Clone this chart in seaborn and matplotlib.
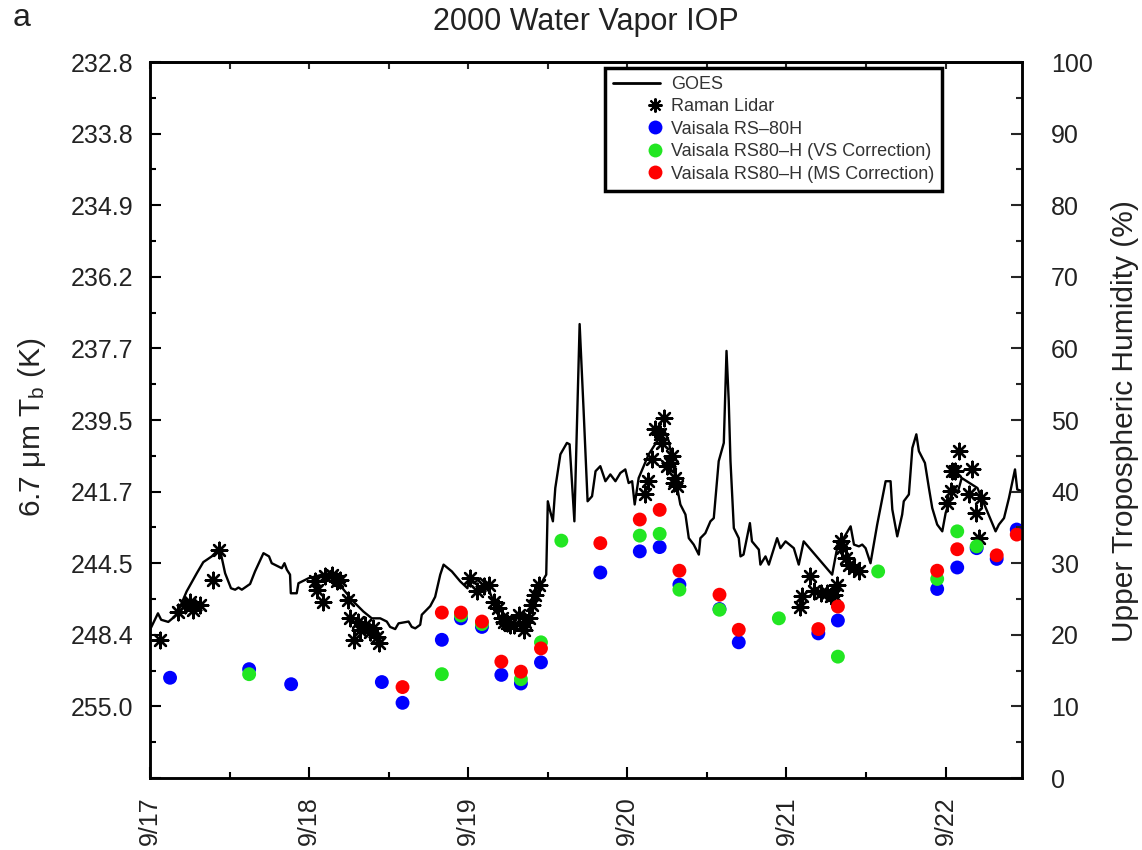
import numpy as np
import pandas as pd
import matplotlib
matplotlib.use("Agg")
import matplotlib.pyplot as plt
import seaborn as sns
from matplotlib.lines import Line2D
from matplotlib.legend_handler import HandlerLine2D

# ---------------- data (days after 9/17 00:00, UTH %) ----------------
day_labels = ["9/17", "9/18", "9/19", "9/20", "9/21", "9/22"]
tb_labels = ["", "255.0", "248.4", "244.5", "241.7", "239.5",
             "237.7", "236.2", "234.9", "233.8", "232.8"]
uth_ticks = [0, 10, 20, 30, 40, 50, 60, 70, 80, 90, 100]

goes_day = [0.0, 0.05, 0.07, 0.115, 0.168, 0.23, 0.294, 0.335, 0.388, 0.419,
            0.44, 0.472, 0.509, 0.535, 0.556, 0.577, 0.629, 0.66, 0.713, 0.748,
            0.765, 0.828, 0.845, 0.86, 0.88, 0.885, 0.922, 0.933, 0.996, 1.038,
            1.1, 1.143, 1.184, 1.226, 1.278, 1.341, 1.394, 1.447, 1.488, 1.509,
            1.541, 1.562, 1.625, 1.645, 1.667, 1.698, 1.708, 1.761, 1.792, 1.824,
            1.845, 1.897, 1.95, 1.995, 2.006, 2.033, 2.075, 2.117, 2.159, 2.2,
            2.243, 2.285, 2.327, 2.369, 2.41, 2.453, 2.49, 2.5, 2.515, 2.532,
            2.547, 2.579, 2.62, 2.637, 2.667, 2.7, 2.725, 2.75, 2.778, 2.8,
            2.83, 2.862, 2.893, 2.925, 2.956, 2.987, 3.008, 3.03, 3.046, 3.071,
            3.134, 3.187, 3.229, 3.26, 3.302, 3.333, 3.365, 3.386, 3.417, 3.449,
            3.459, 3.49, 3.522, 3.543, 3.574, 3.606, 3.623, 3.637, 3.648, 3.658,
            3.669, 3.7, 3.711, 3.73, 3.77, 3.783, 3.826, 3.836, 3.868, 3.889,
            3.941, 3.962, 3.994, 4.046, 4.077, 4.108, 4.287, 4.318, 4.34, 4.403,
            4.424, 4.455, 4.476, 4.497, 4.528, 4.57, 4.623, 4.654, 4.665, 4.696,
            4.727, 4.737, 4.769, 4.791, 4.816, 4.832, 4.87, 4.895, 4.916, 4.947,
            4.979, 5.0, 5.052, 5.075, 5.101, 5.2, 5.314, 5.335, 5.367, 5.398,
            5.436, 5.45, 5.48]
goes_uth = [20.7, 23.0, 22.1, 21.8, 22.8, 26.05, 28.6, 30.15, 30.95, 31.65,
            31.9, 28.6, 26.5, 26.3, 26.6, 26.3, 27.1, 28.85, 31.4, 30.95,
            30.0, 29.3, 30.0, 29.1, 28.4, 25.8, 25.8, 27.2, 27.9, 28.15,
            28.5, 28.15, 27.2, 26.05, 24.65, 23.25, 22.3, 22.3, 21.85, 21.1,
            20.8, 21.6, 21.85, 21.1, 20.9, 21.4, 22.8, 24.0, 25.3, 28.4,
            29.8, 28.85, 27.45, 26.5, 28.15, 27.2, 27.9, 27.0, 24.65, 22.3,
            21.4, 21.85, 22.8, 21.85, 24.65, 27.0, 28.4, 38.65, 37.25, 35.85,
            40.5, 45.2, 46.8, 46.6, 35.85, 63.4, 51.3, 38.65, 39.35, 42.85,
            43.55, 41.45, 42.4, 41.45, 42.6, 43.1, 41.2, 41.45, 38.2, 41.9,
            45.2, 47.05, 48.7, 47.05, 41.9, 38.2, 36.8, 33.5, 32.6, 31.2,
            33.5, 34.2, 35.85, 36.3, 44.25, 46.8, 59.65, 52.65, 44.25, 39.8,
            34.9, 33.5, 30.95, 31.2, 35.6, 33.05, 31.9, 29.8, 30.95, 29.8,
            33.5, 32.1, 33.05, 32.1, 29.8, 33.05, 28.4, 32.1, 32.8, 35.15,
            32.6, 32.35, 32.6, 32.1, 30.0, 35.4, 41.45, 41.45, 37.5, 33.75,
            36.8, 38.65, 39.6, 46.1, 48.0, 45.65, 44.0, 40.5, 37.7, 35.4,
            34.45, 37.0, 40.75, 39.8, 41.9, 40.5, 34.45, 35.4, 36.3, 39.1,
            43.1, 40.3, 40.05]

raman_day = [0.063, 0.178, 0.22, 0.252, 0.272, 0.314, 0.398, 0.434,
             1.038, 1.048, 1.09, 1.1, 1.143, 1.174, 1.195, 1.247, 1.258, 1.279,
             1.31, 1.321, 1.352, 1.384, 1.404, 1.426, 1.436,
             2.013, 2.055, 2.096, 2.128, 2.159, 2.19, 2.211, 2.222, 2.243, 2.264,
             2.285, 2.317, 2.348, 2.358, 2.38, 2.4, 2.421, 2.442,
             3.109, 3.13, 3.155, 3.176, 3.208, 3.218, 3.229, 3.25, 3.27, 3.281,
             3.291, 3.302, 3.312,
             4.088, 4.098, 4.15, 4.171, 4.214, 4.256, 4.277, 4.3, 4.318, 4.34,
             4.35, 4.371, 4.392, 4.424, 4.455,
             5.01, 5.031, 5.042, 5.06, 5.084, 5.147, 5.168, 5.189, 5.22, 5.209]
raman_uth = [19.3, 23.25, 24.2, 24.65, 23.5, 24.2, 27.7, 31.9,
             27.45, 26.3, 24.65, 28.15, 28.4, 27.45, 27.7, 24.9, 22.3, 19.3,
             21.85, 20.7, 21.4, 20.45, 20.9, 19.75, 18.8,
             27.9, 26.05, 26.75, 27.0, 24.65, 23.7, 22.3, 21.85, 21.6, 21.4,
             21.4, 22.8, 20.7, 21.85, 22.3, 24.2, 25.6, 27.0,
             39.6, 41.45, 44.5, 48.7, 48.0, 46.8, 50.3, 43.55, 44.0, 44.95,
             41.2, 41.9, 40.75,
             23.95, 25.35, 28.15, 26.05, 25.8, 25.8, 25.35, 25.6, 27.0, 33.05,
             32.1, 30.7, 29.8, 29.3, 28.85,
             38.4, 40.05, 42.85, 42.85, 45.65, 39.6, 43.1, 37.0, 39.1, 33.5]

nan = np.nan
sonde_day = [0.126, 0.623, 0.887, 1.457, 1.587, 1.834, 1.954, 2.086, 2.208,
             2.331, 2.457, 2.585, 2.83, 3.078, 3.203, 3.327, 3.579, 3.70, 3.952,
             4.20, 4.323, 4.576, 4.947, 5.073, 5.195, 5.321, 5.447]
rs80h = [14.0, 15.2, 13.1, 13.4, 10.5, 19.3, 22.3, 21.1, 14.4,
         13.2, 16.15, nan, 28.7, 31.65, 32.25, 27.0, 23.6, 18.95, nan,
         20.2, 22.0, nan, 26.4, 29.4, 32.1, 30.6, 34.7]
rs80h_vs = [nan, 14.5, nan, nan, nan, 14.5, 22.7, 21.5, nan,
            13.8, 18.95, 33.15, nan, 33.85, 34.1, 26.3, 23.5, nan, 22.3,
            nan, 16.95, 28.85, 27.8, 34.45, 32.35, nan, nan]
rs80h_ms = [nan, nan, nan, nan, 12.7, 23.1, 23.1, 21.85, 16.25,
            14.85, 18.1, nan, 32.8, 36.1, 37.45, 28.95, 25.6, 20.7, nan,
            20.8, 23.95, nan, 28.95, 31.95, nan, 31.1, 34.0]

goes_df = pd.DataFrame({"day": goes_day, "uth": goes_uth})
raman_df = pd.DataFrame({"day": raman_day, "uth": raman_uth})
sonde_df = pd.DataFrame({"day": sonde_day, "blue": rs80h,
                         "green": rs80h_vs, "red": rs80h_ms})

# ---------------- style ----------------
sns.set_style("ticks")
plt.rcParams["font.family"] = ["Liberation Sans", "DejaVu Sans"]
plt.rcParams["mathtext.fontset"] = "custom"
plt.rcParams["mathtext.rm"] = "Liberation Sans"

C_BLUE, C_GREEN, C_RED = "#0000ff", "#22e622", "#ff0000"
TXT = "#222222"

fig = plt.figure(figsize=(11.42, 8.5), dpi=100)
ax = fig.add_axes([150 / 1142, 72 / 850, 872 / 1142, 716 / 850])

sns.lineplot(data=goes_df, x="day", y="uth", sort=False, color="black",
             linewidth=1.7, ax=ax, legend=False, zorder=2)
sns.scatterplot(data=raman_df, x="day", y="uth", marker=(8, 2, 0), s=125,
                color="black", edgecolor="black", linewidth=1.7, ax=ax,
                legend=False, zorder=3)
sns.scatterplot(data=sonde_df, x="day", y="blue", color=C_BLUE, s=100,
                edgecolor="none", ax=ax, legend=False, zorder=4)
sns.scatterplot(data=sonde_df, x="day", y="green", color=C_GREEN, s=100,
                edgecolor="none", ax=ax, legend=False, zorder=5)
sns.scatterplot(data=sonde_df, x="day", y="red", color=C_RED, s=100,
                edgecolor="none", ax=ax, legend=False, zorder=6)

ax.set_xlim(0, 5.48)
ax.set_ylim(0, 100)
ax.set_xlabel("")
ax.set_ylabel("")
ax.set_xticks(range(len(day_labels)))
ax.set_xticklabels(day_labels, rotation=90, va="top")
ax.set_xticks(np.arange(0.5, 5.5, 1.0), minor=True)
ax.set_yticks(uth_ticks)
ax.set_yticklabels(tb_labels)
ax.set_yticks(np.arange(5, 100, 10), minor=True)
ax.tick_params(axis="both", which="both", direction="in", width=1.5,
               labelsize=18, colors="black")
ax.tick_params(axis="both", which="major", length=8)
ax.tick_params(axis="both", which="minor", length=4.5)
ax.tick_params(axis="y", which="both", right=False, pad=12)
ax.tick_params(axis="x", which="both", top=False, pad=13)
for tl in ax.get_yticklabels() + ax.get_xticklabels():
    tl.set_color(TXT)

top = ax.secondary_xaxis("top")
top.set_xticks(np.arange(0, 5.5, 0.5))
top.tick_params(direction="in", length=5, width=1.5, labeltop=False)
top.set_xticklabels([])

ax2 = ax.twinx()
ax2.set_ylim(0, 100)
ax2.set_yticks(uth_ticks)
ax2.set_yticks(np.arange(5, 100, 10), minor=True)
ax2.tick_params(axis="y", which="both", direction="in", width=1.5,
                labelsize=18, pad=21, labelcolor=TXT)
ax2.tick_params(axis="y", which="major", length=8)
ax2.tick_params(axis="y", which="minor", length=4.5)

for a in (ax, ax2):
    for sp in a.spines.values():
        sp.set_linewidth(1.8)
        sp.set_color("black")
top.spines["top"].set_linewidth(1.8)

# labels
fig.text(32 / 1142, 1 - 427 / 850, r"6.7 μm $\mathregular{T_b}$ (K)",
         rotation=90, ha="center", va="center", fontsize=21.5, color=TXT)
fig.text(1125 / 1142, 1 - 421 / 850, "Upper Tropospheric Humidity (%)",
         rotation=90, ha="center", va="center", fontsize=21.5, color=TXT)
fig.text(586 / 1142, 1 - 22 / 850, "2000 Water Vapor IOP", ha="center",
         va="center", fontsize=22, color=TXT)
fig.text(22 / 1142, 1 - 18 / 850, "a", ha="center", va="center",
         fontsize=23, color=TXT)


# legend: markers sit at the right end of the handle area
class RightMarker(HandlerLine2D):
    def get_xdata(self, legend, xdescent, ydescent, width, height, fontsize):
        xd = np.array([-xdescent + width - 0.3 * fontsize])
        return xd, xd


h_goes = Line2D([], [], color="black", lw=2)
h_raman = Line2D([], [], ls="none", marker=(8, 2, 0), color="black",
                 markersize=10, mew=1.5)
h_blue = Line2D([], [], ls="none", marker="o", mfc=C_BLUE, mec="none",
                markersize=10)
h_green = Line2D([], [], ls="none", marker="o", mfc=C_GREEN, mec="none",
                 markersize=10)
h_red = Line2D([], [], ls="none", marker="o", mfc=C_RED, mec="none",
               markersize=10)
handles = [h_goes, h_raman, h_blue, h_green, h_red]
labels = ["GOES", "Raman Lidar", "Vaisala RS\u201380H",
          "Vaisala RS80\u2013H (VS Correction)",
          "Vaisala RS80\u2013H (MS Correction)"]
hm = {h: RightMarker(numpoints=1) for h in handles[1:]}
leg = ax2.legend(handles, labels, handler_map=hm, loc="upper left",
                 bbox_to_anchor=(0.522, 0.992), bbox_transform=ax.transAxes,
                 frameon=True, fancybox=False, edgecolor="black",
                 fontsize=13, handlelength=2.6, handletextpad=0.6,
                 labelspacing=0.3, borderpad=0.45, borderaxespad=0)
leg.get_frame().set_linewidth(2.5)
leg.get_frame().set_facecolor("white")
leg.get_frame().set_alpha(1)
for t in leg.get_texts():
    t.set_color("#333333")

fig.savefig("out.png", dpi=100)
